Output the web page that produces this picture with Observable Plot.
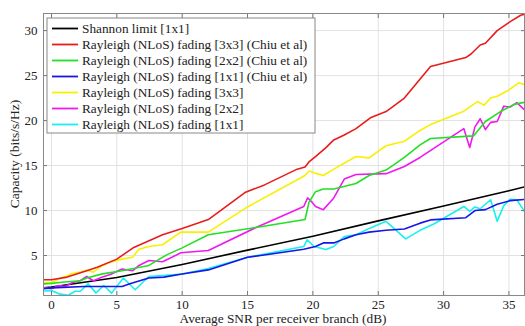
<!DOCTYPE html>
<html>
<head>
<meta charset="utf-8">
<script src="https://cdn.jsdelivr.net/npm/d3@7"></script>
<script src="https://cdn.jsdelivr.net/npm/@observablehq/plot@0.6"></script>
<style>
html,body{margin:0;padding:0;background:#fff;}
svg{font-family:"Liberation Serif","Times New Roman",serif;}
</style>
</head>
<body>
<div id="chart"></div>
<script>
const seriesNames = [
  "Shannon limit [1x1]",
  "Rayleigh (NLoS) fading [3x3] (Chiu et al)",
  "Rayleigh (NLoS) fading [2x2] (Chiu et al)",
  "Rayleigh (NLoS) fading [1x1] (Chiu et al)",
  "Rayleigh (NLoS) fading [3x3]",
  "Rayleigh (NLoS) fading [2x2]",
  "Rayleigh (NLoS) fading [1x1]"
];
const seriesColors = ["#000000","#e81c1c","#22e022","#1616e6","#f8f000","#f018f0","#18f0f0"];

const xTicks = [0,5,10,15,20,25,30,35];
const yTicks = [5,10,15,20,25,30];

const shannonX = [-0.6,0,5,10,15,20,25,30,35,36.4];
const shannonY = [1.4,1.5,2.55,4.0,5.6,7.15,8.85,10.5,12.2,12.7];

const red3x3X = [-0.6,0,1.2,2.7,3.5,5,6.3,8.5,10,12,14.8,16.3,18.8,19.4,19.7,20.2,21.0,21.6,22.4,23.3,24.4,25.6,27.0,29.0,31.7,32.1,32.8,33.2,34.1,35.1,35.9,36.4];
const red3x3Y = [2.3,2.3,2.6,3.3,3.7,4.6,5.9,7.3,8.0,9.0,12.0,12.85,14.6,14.85,15.4,16.0,17.0,17.85,18.4,19.1,20.3,21.0,22.5,26.0,27.0,27.4,28.4,28.6,30.0,31.0,31.7,31.9];

const green2x2X = [-0.6,0,1,2.2,2.7,3.9,5.4,7.45,8.85,10,12,16,19.4,19.7,20.2,20.8,21.6,23.3,24.3,25.6,27.0,28.2,29.0,32.3,33.2,34.35,35.4,36.4];
const green2x2Y = [1.85,1.9,2.05,2.2,2.5,2.96,3.3,3.9,5.1,5.85,7.3,8.2,9.0,10.9,12.1,12.4,12.4,13.0,13.9,14.5,15.9,17.3,18.0,18.3,19.9,21.0,21.8,22.1];

const blue1x1X = [-0.6,0,2.5,5.4,6.0,7.45,8.6,10,12,15,16,19.3,20.2,20.8,21.6,22.4,23.3,24.3,25.6,27.0,28.2,29.0,31.7,32.4,33.2,34.1,35.1,36.4];
const blue1x1Y = [1.3,1.4,1.55,1.55,1.85,2.5,2.6,2.95,3.4,4.8,5.0,5.7,6.0,6.4,6.4,6.85,7.3,7.6,7.8,7.95,8.6,8.96,9.2,10.0,10.1,10.7,11.1,11.26];

const yellow3x3X = [-0.6,0,0.56,1.07,1.6,2.2,2.7,3.2,3.9,4.5,5.4,6.2,6.7,7.45,8.5,9.9,12.0,15.0,19.4,19.7,20.3,20.8,21.6,23.3,24.3,25.6,27.0,28.2,29.0,31.5,32.6,33.1,33.6,34.1,35.0,35.75,36.4];
const yellow3x3Y = [2.0,2.0,2.4,2.67,3.0,3.15,3.4,3.15,3.9,4.25,4.6,4.8,5.7,6.0,6.2,7.6,7.6,10.4,13.9,14.4,14.1,13.9,14.6,16.0,15.85,17.2,17.7,18.9,19.55,21.0,22.1,21.7,22.5,22.7,23.4,24.2,23.9];

const magenta2x2X = [-0.6,0,0.56,1.07,1.6,2.2,2.7,3.2,3.9,4.5,5.4,6.2,6.7,7.45,8.5,9.9,12.0,15.7,19.3,19.6,19.95,20.2,20.8,21.6,22.4,23.3,25.6,27.0,28.2,31.55,32.0,32.4,32.8,33.2,33.6,34.1,34.6,35.1,35.6,36.4];
const magenta2x2Y = [1.45,1.3,1.67,1.55,2.0,2.2,2.67,2.2,2.6,2.9,3.5,3.3,3.9,4.45,4.3,5.3,5.55,8.15,10.45,11.4,10.9,10.45,10.1,11.4,13.5,14.0,14.1,14.9,15.9,19.1,17.0,19.3,20.2,19.0,19.8,19.9,21.6,21.5,22.0,20.9];

const cyan1x1X = [-0.6,0,0.56,1.3,1.8,2.2,2.8,3.4,4.0,4.6,5.5,6.4,7.45,10,12,15,19.3,19.56,20.1,21.0,21.6,22.4,23.3,24.4,25.6,27.1,28.2,29.25,31.55,32.0,32.4,32.8,33.6,34.1,34.6,35.1,35.6,36.4];
const cyan1x1Y = [1.05,1.1,0.74,0.58,1.03,1.03,1.85,0.85,1.67,0.82,2.5,1.2,2.67,2.95,3.55,4.8,6.0,6.74,6.0,5.67,6.0,7.1,7.3,8.07,8.8,6.85,7.8,8.5,10.45,9.9,10.4,10.2,11.2,8.8,10.55,11.26,11.2,9.45];

const seriesXs = [shannonX, red3x3X, green2x2X, blue1x1X, yellow3x3X, magenta2x2X, cyan1x1X];
const seriesYs = [shannonY, red3x3Y, green2x2Y, blue1x1Y, yellow3x3Y, magenta2x2Y, cyan1x1Y];

const rows = [];
seriesNames.forEach((name, i) => {
  seriesXs[i].forEach((x, j) => rows.push({series: name, x, y: seriesYs[i][j]}));
});
const drawOrder = [0,4,5,6,1,2,3];

const marks = [
  Plot.gridX(xTicks, {stroke: "#e2e2e2", strokeOpacity: 1}),
  Plot.gridY(yTicks, {stroke: "#e2e2e2", strokeOpacity: 1}),
  ...drawOrder.map(i => Plot.line(rows.filter(r => r.series === seriesNames[i]), {
    x: "x", y: "y", stroke: seriesColors[i], strokeWidth: 1.6, clip: true
  })),
  Plot.axisX(xTicks, {anchor: "bottom", tickSize: -4, tickPadding: 8, stroke: "#777", fontSize: 13, fill: "#222", label: null}),
  Plot.axisX(xTicks, {anchor: "top", tickSize: -4, tickFormat: () => "", stroke: "#777", label: null}),
  Plot.axisY(yTicks, {anchor: "left", tickSize: -4, tickPadding: 10, stroke: "#777", fontSize: 13, fill: "#222", label: null}),
  Plot.axisY(yTicks, {anchor: "right", tickSize: -4, tickFormat: () => "", stroke: "#777", label: null}),
  Plot.frame({stroke: "#888"})
];

const chart = Plot.plot({
  width: 525,
  height: 326,
  marginLeft: 43,
  marginRight: 1,
  marginTop: 13,
  marginBottom: 31,
  x: {domain: [-0.61, 36.19]},
  y: {domain: [0.556, 31.9]},
  style: {fontFamily: '"Liberation Serif","Times New Roman",serif', fontSize: "13px", background: "#fff"},
  marks
});

const svg = d3.select(chart);
svg.append("text")
  .attr("transform", "translate(16,154) rotate(-90)")
  .attr("text-anchor", "middle").attr("dominant-baseline", "middle")
  .attr("font-size", 13.5).attr("fill", "#222")
  .text("Capacity (bits/s/Hz)");
svg.append("text")
  .attr("x", 283).attr("y", 323)
  .attr("text-anchor", "middle")
  .attr("font-size", 13.3).attr("fill", "#222")
  .text("Average SNR per receiver branch (dB)");

const lg = svg.append("g").attr("transform", "translate(47,18)");
lg.append("rect").attr("width", 268).attr("height", 115)
  .attr("fill", "#fff").attr("stroke", "#888");
seriesNames.forEach((name, i) => {
  const yy = 10.5 + i * 16;
  lg.append("line").attr("x1", 5).attr("x2", 31).attr("y1", yy).attr("y2", yy)
    .attr("stroke", seriesColors[i]).attr("stroke-width", 1.8);
  lg.append("text").attr("x", 35).attr("y", yy).attr("dy", "0.35em")
    .attr("text-anchor", "start")
    .attr("font-size", 13.3).attr("fill", "#222").text(name);
});

document.getElementById("chart").appendChild(chart);
</script>
</body>
</html>
